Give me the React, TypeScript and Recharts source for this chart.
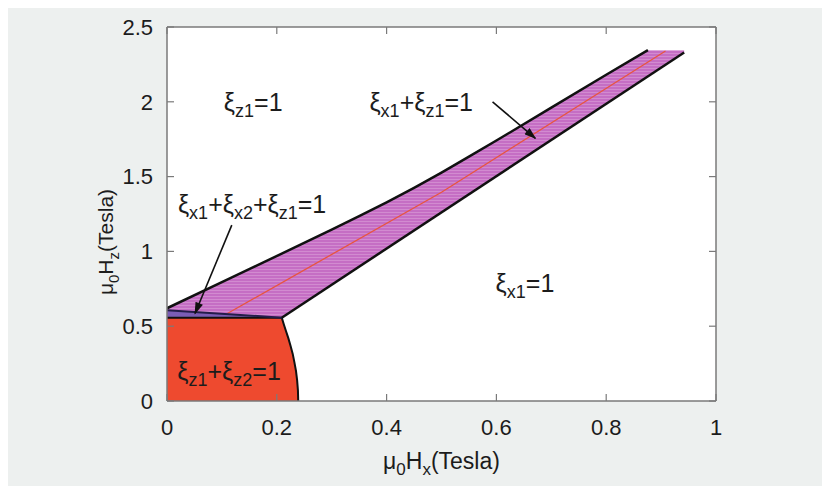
import React from 'react';
import { ComposedChart, Area, Line, XAxis, YAxis, ReferenceDot, CartesianGrid, Label } from 'recharts';

const xTicks = [0, 0.2, 0.4, 0.6, 0.8, 1];
const yTicks = [0, 0.5, 1, 1.5, 2, 2.5];
const xTickLabels = ['0', '0.2', '0.4', '0.6', '0.8', '1'];
const yTickLabels = ['0', '0.5', '1', '1.5', '2', '2.5'];

// ξz1+ξz2=1 region: [low, high] at each x
const redRegion = [
  { x: 0, y: [0, 0.557] },
  { x: 0.209, y: [0, 0.557] },
  { x: 0.213, y: [0, 0.51] },
  { x: 0.217, y: [0, 0.465] },
  { x: 0.221, y: [0, 0.42] },
  { x: 0.225, y: [0, 0.37] },
  { x: 0.229, y: [0, 0.315] },
  { x: 0.232, y: [0, 0.26] },
  { x: 0.235, y: [0, 0.2] },
  { x: 0.237, y: [0, 0.14] },
  { x: 0.2385, y: [0, 0.07] },
  { x: 0.239, y: [0, 0] },
];
const redCurve = [
  { x: 0.209, y: 0.557 },
  { x: 0.213, y: 0.51 },
  { x: 0.217, y: 0.465 },
  { x: 0.221, y: 0.42 },
  { x: 0.225, y: 0.37 },
  { x: 0.229, y: 0.315 },
  { x: 0.232, y: 0.26 },
  { x: 0.235, y: 0.2 },
  { x: 0.237, y: 0.14 },
  { x: 0.2385, y: 0.07 },
  { x: 0.239, y: 0 },
];
const redTop = [
  { x: 0, y: 0.557 },
  { x: 0.209, y: 0.557 },
];

// ξx1+ξx2+ξz1=1 thin wedge
const blueRegion = [
  { x: 0, y: [0.557, 0.607] },
  { x: 0.209, y: [0.557, 0.557] },
];
const blueLine = [
  { x: 0, y: 0.607 },
  { x: 0.209, y: 0.557 },
];

// ξx1+ξz1=1 band
const pinkBand = [
  { x: 0, y: [0.607, 0.62] },
  { x: 0.1, y: [0.583, 0.795] },
  { x: 0.209, y: [0.557, 0.985] },
  { x: 0.3, y: [0.777, 1.145] },
  { x: 0.35, y: [0.898, 1.235] },
  { x: 0.4, y: [1.019, 1.328] },
  { x: 0.45, y: [1.14, 1.425] },
  { x: 0.5, y: [1.261, 1.527] },
  { x: 0.55, y: [1.382, 1.633] },
  { x: 0.6, y: [1.503, 1.741] },
  { x: 0.7, y: [1.745, 1.961] },
  { x: 0.8, y: [1.987, 2.181] },
  { x: 0.876, y: [2.171, 2.345] },
  { x: 0.942, y: [2.33, 2.345] },
];
const upperLine = [
  { x: 0, y: 0.62 },
  { x: 0.1, y: 0.795 },
  { x: 0.209, y: 0.985 },
  { x: 0.3, y: 1.145 },
  { x: 0.35, y: 1.235 },
  { x: 0.4, y: 1.328 },
  { x: 0.45, y: 1.425 },
  { x: 0.5, y: 1.527 },
  { x: 0.55, y: 1.633 },
  { x: 0.6, y: 1.741 },
  { x: 0.7, y: 1.961 },
  { x: 0.8, y: 2.181 },
  { x: 0.876, y: 2.345 },
];
const lowerLine = [
  { x: 0.209, y: 0.557 },
  { x: 0.942, y: 2.33 },
];
const centerLine = [
  { x: 0.11, y: 0.585 },
  { x: 0.5, y: 1.395 },
  { x: 0.908, y: 2.34 },
];

const arrowBand = [
  { x: 0.593, y: 2.0 },
  { x: 0.671, y: 1.756 },
];
const arrowWedge = [
  { x: 0.118, y: 1.176 },
  { x: 0.051, y: 0.585 },
];

const regionLabels = [
  { x: 0.157, y: 1.94, parts: ['ξ', '_z1', '=1'] },
  { x: 0.463, y: 1.94, parts: ['ξ', '_x1', '+ξ', '_z1', '=1'] },
  { x: 0.155, y: 1.257, parts: ['ξ', '_x1', '+ξ', '_x2', '+ξ', '_z1', '=1'] },
  { x: 0.652, y: 0.73, parts: ['ξ', '_x1', '=1'] },
  { x: 0.113, y: 0.14, parts: ['ξ', '_z1', '+ξ', '_z2', '=1'] },
];

const FONT = '"Liberation Sans", Arial, Helvetica, sans-serif';
const TEXT = '#1c1c1c';
const FRAME = '#7a7a7a';

function renderParts(parts: string[], subSize: number, shift: number) {
  let inSub = false;
  return parts.map((p, i) => {
    const isSub = p.startsWith('_');
    let dy = 0;
    if (isSub && !inSub) dy = shift;
    if (!isSub && inSub) dy = -shift;
    inSub = isSub;
    return (
      <tspan key={i} dy={dy} fontSize={isSub ? subSize : undefined}>
        {isSub ? p.slice(1) : p}
      </tspan>
    );
  });
}

const RegionText = ({ cx, cy, parts }: any) => (
  <text x={cx} y={cy} textAnchor="middle" fontSize={25} fontFamily={FONT} fill={TEXT}>
    {renderParts(parts, 18, 6)}
  </text>
);

const XTitle = ({ viewBox }: any) => {
  const cx = viewBox.x + viewBox.width / 2;
  const y = viewBox.y + 68;
  return (
    <text x={cx} y={y} textAnchor="middle" fontSize={23} fontFamily={FONT} fill={TEXT}>
      {renderParts(['μ', '_0', 'H', '_x', '(Tesla)'], 17, 6)}
    </text>
  );
};

const YTitle = ({ viewBox }: any) => {
  const cx = viewBox.x + 105;
  const cy = viewBox.y + viewBox.height / 2 + 28;
  return (
    <text
      x={cx}
      y={cy}
      transform={`rotate(-90, ${cx}, ${cy})`}
      textAnchor="middle"
      fontSize={21}
      fontFamily={FONT}
      fill={TEXT}
    >
      {renderParts(['μ', '_0', 'H', '_z', '(Tesla)'], 15, 6)}
    </text>
  );
};

const NoLabel = () => <g />;

export default function App() {
  const tickStyle = { fontSize: 22, fontFamily: FONT, fill: TEXT };
  return (
    <div style={{ marginTop: -3, width: 822, height: 481, background: '#edf0ef', position: 'relative' }}>
      <svg width={0} height={0} style={{ position: 'absolute' }}>
        <defs>
          <marker
            id="arrowHead"
            viewBox="0 0 12 8"
            refX={11}
            refY={4}
            markerWidth={13}
            markerHeight={8}
            markerUnits="userSpaceOnUse"
            orient="auto"
          >
            <path d="M0,0 L12,4 L0,8 z" fill="#111" />
          </marker>
          <pattern id="stripes" width={4} height={3} patternUnits="userSpaceOnUse">
            <rect width={4} height={3} fill="#c56ec4" />
            <rect width={4} height={1} fill="#d28bd0" />
          </pattern>
        </defs>
      </svg>
      <ComposedChart width={822} height={481} margin={{ top: 22, right: 114, bottom: 0, left: 0 }}>
        <CartesianGrid xAxisId="x" yAxisId="y" fill="#ffffff" stroke="none" />
        <XAxis
          xAxisId="x"
          dataKey="x"
          type="number"
          domain={[0, 1]}
          ticks={xTicks}
          tickFormatter={(v: number) => xTickLabels[xTicks.indexOf(v)] ?? String(v)}
          height={85}
          tickSize={-7}
          tickMargin={25}
          tickLine={{ stroke: FRAME, strokeWidth: 1.2 }}
          axisLine={{ stroke: FRAME, strokeWidth: 1.5 }}
          tick={tickStyle}
          allowDataOverflow
        >
          <Label content={<XTitle />} />
        </XAxis>
        <XAxis
          xAxisId="xt"
          dataKey="x"
          type="number"
          domain={[0, 1]}
          ticks={xTicks}
          orientation="top"
          mirror
          tick={<NoLabel />}
          tickSize={7}
          axisLine={{ stroke: FRAME, strokeWidth: 1.5 }}
          tickLine={{ stroke: FRAME, strokeWidth: 1.2 }}
          allowDataOverflow
        />
        <YAxis
          yAxisId="y"
          type="number"
          domain={[0, 2.5]}
          ticks={yTicks}
          tickFormatter={(v: number) => yTickLabels[yTicks.indexOf(v)] ?? String(v)}
          width={159}
          tickSize={-7}
          tickMargin={21}
          tickLine={{ stroke: FRAME, strokeWidth: 1.2 }}
          axisLine={{ stroke: FRAME, strokeWidth: 1.5 }}
          tick={tickStyle}
          allowDataOverflow
        >
          <Label content={<YTitle />} />
        </YAxis>
        <YAxis
          yAxisId="yr"
          type="number"
          domain={[0, 2.5]}
          ticks={yTicks}
          orientation="right"
          mirror
          tick={<NoLabel />}
          tickSize={7}
          axisLine={{ stroke: FRAME, strokeWidth: 1.5 }}
          tickLine={{ stroke: FRAME, strokeWidth: 1.2 }}
          allowDataOverflow
        />

        <Area xAxisId="x" yAxisId="y" data={redRegion} dataKey="y" type="linear" fill="#ee4a2f" fillOpacity={1} stroke="none" isAnimationActive={false} activeDot={false} />
        <Area xAxisId="x" yAxisId="y" data={pinkBand} dataKey="y" type="linear" fill="url(#stripes)" fillOpacity={1} stroke="none" isAnimationActive={false} activeDot={false} />
        <Area xAxisId="x" yAxisId="y" data={blueRegion} dataKey="y" type="linear" fill="#7b5db5" fillOpacity={1} stroke="none" isAnimationActive={false} activeDot={false} />

        <Line xAxisId="x" yAxisId="y" data={centerLine} dataKey="y" type="linear" stroke="#e8553f" strokeWidth={1.3} dot={false} activeDot={false} isAnimationActive={false} />
        <Line xAxisId="x" yAxisId="y" data={redTop} dataKey="y" type="linear" stroke="#111" strokeWidth={2} dot={false} activeDot={false} isAnimationActive={false} />
        <Line xAxisId="x" yAxisId="y" data={redCurve} dataKey="y" type="linear" stroke="#111" strokeWidth={2} dot={false} activeDot={false} isAnimationActive={false} />
        <Line xAxisId="x" yAxisId="y" data={blueLine} dataKey="y" type="linear" stroke="#231d4a" strokeWidth={2} dot={false} activeDot={false} isAnimationActive={false} />
        <Line xAxisId="x" yAxisId="y" data={upperLine} dataKey="y" type="linear" stroke="#111" strokeWidth={2.5} dot={false} activeDot={false} isAnimationActive={false} />
        <Line xAxisId="x" yAxisId="y" data={lowerLine} dataKey="y" type="linear" stroke="#111" strokeWidth={2.5} dot={false} activeDot={false} isAnimationActive={false} />

        <Line xAxisId="x" yAxisId="y" data={arrowBand} dataKey="y" type="linear" stroke="#111" strokeWidth={1.6} dot={false} activeDot={false} isAnimationActive={false} markerEnd="url(#arrowHead)" />
        <Line xAxisId="x" yAxisId="y" data={arrowWedge} dataKey="y" type="linear" stroke="#111" strokeWidth={1.6} dot={false} activeDot={false} isAnimationActive={false} markerEnd="url(#arrowHead)" />

        {regionLabels.map((l, i) => (
          <ReferenceDot
            key={i}
            xAxisId="x"
            yAxisId="y"
            x={l.x}
            y={l.y}
            r={0}
            shape={(p: any) => <RegionText cx={p.cx} cy={p.cy} parts={l.parts} />}
          />
        ))}
      </ComposedChart>
    </div>
  );
}
